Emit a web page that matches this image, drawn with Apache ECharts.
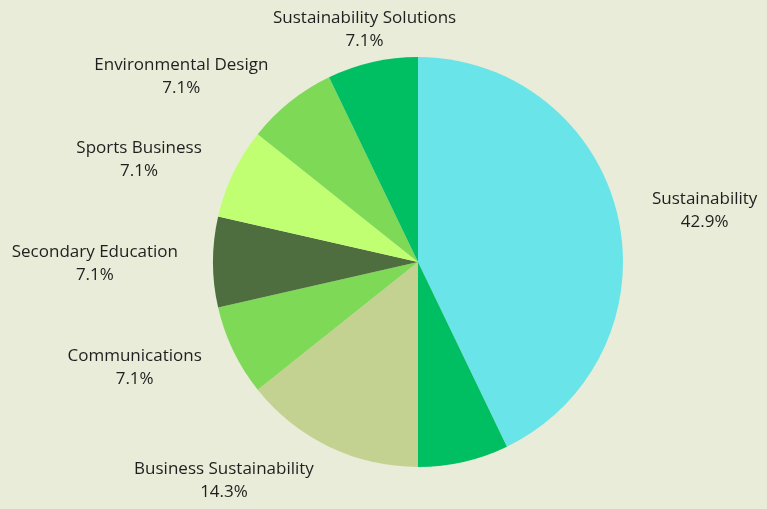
<!DOCTYPE html>
<html>
<head>
<meta charset="utf-8">
<script src="https://cdn.jsdelivr.net/npm/echarts@6/dist/echarts.min.js"></script>
<style>
html,body{margin:0;padding:0;background:#E8ECD8;}
#chart{width:767px;height:509px;}
</style>
</head>
<body>
<div id="chart"></div>
<script>
var categories = ['Sustainability', '', 'Business Sustainability', 'Communications', 'Secondary Education', 'Sports Business', 'Environmental Design', 'Sustainability Solutions'];
var values = [6, 1, 2, 1, 1, 1, 1, 1];
var colors = ['#69E4E8', '#00BF63', '#C3D191', '#7ED957', '#4F6E3F', '#C1FF72', '#7ED957', '#00BF63'];

var chart = echarts.init(document.getElementById('chart'));
var data = categories.map(function (c, i) {
  var d = { name: c, value: values[i], itemStyle: { color: colors[i] } };
  if (!c) d.label = { show: false };
  return d;
});
chart.setOption({
  backgroundColor: '#E8ECD8',
  animation: false,
  series: [{
    type: 'pie',
    center: [418, 262],
    radius: [0, 205],
    startAngle: 90,
    clockwise: true,
    avoidLabelOverlap: false,
    data: data,
    itemStyle: { borderWidth: 0 },
    label: {
      show: true,
      position: 'outside',
      distanceToLabelLine: 0,
      formatter: function (p) { return p.name + '\n' + p.percent.toFixed(1) + '%'; },
      fontFamily: 'Open Sans',
      fontSize: 17,
      lineHeight: 23,
      color: '#1F1F1F'
    },
    labelLine: { show: true, length: 35, length2: 0, lineStyle: { width: 0, opacity: 0 } },
    labelLayout: function (p) {
      var pts = p.labelLinePoints;
      if (!pts) return {};
      var a = pts[0], b = pts[1];
      var len = Math.hypot(b[0] - a[0], b[1] - a[1]) || 1;
      var dx = (b[0] - a[0]) / len;
      var w = p.labelRect.width;
      var x = b[0];
      if (Math.abs(dx) > 0.3) x += (dx > 0 ? 1 : -1) * w / 2;
      return { x: x, y: b[1], dy: 2, align: 'center', verticalAlign: 'middle' };
    }
  }]
});
</script>
</body>
</html>
